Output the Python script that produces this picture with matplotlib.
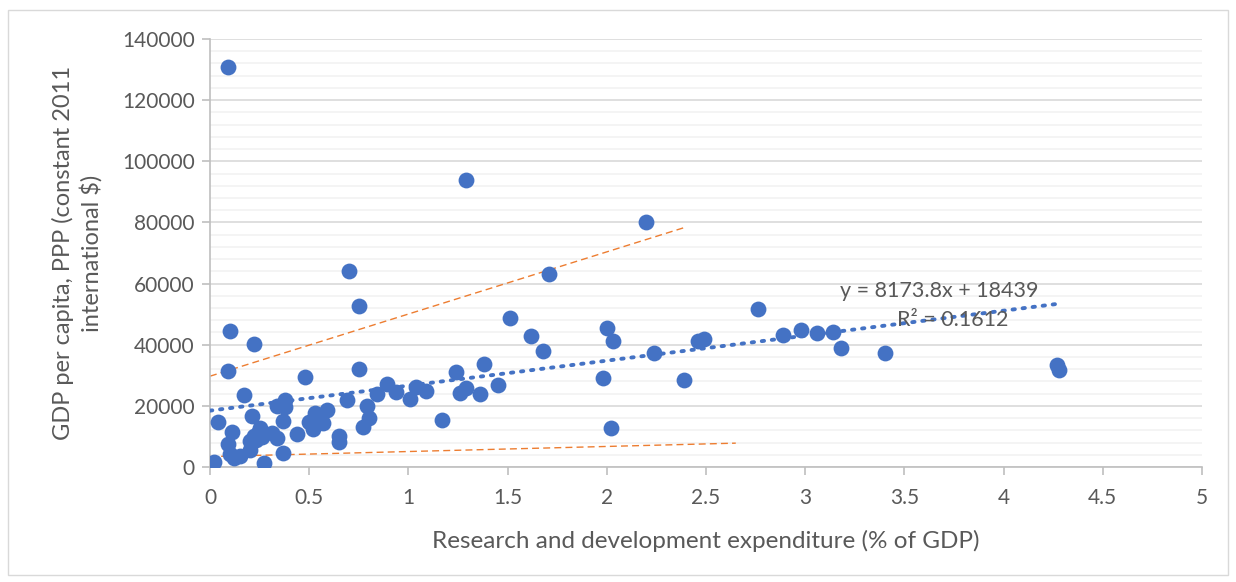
import matplotlib.pyplot as plt
import numpy as np
from matplotlib.patches import Rectangle

plt.rcParams['font.family'] = ['Lato', 'DejaVu Sans']

# R&D expenditure (% of GDP) vs GDP per capita, PPP
rd_pct = [0.02, 0.04, 0.09, 0.10, 0.11, 0.12, 0.09, 0.10, 0.09, 0.17,
          0.21, 0.20, 0.20, 0.22, 0.24, 0.25, 0.23, 0.22, 0.27, 0.34,
          0.34, 0.37, 0.38, 0.38, 0.37, 0.48, 0.44, 0.50, 0.53, 0.52,
          0.57, 0.59, 0.65, 0.65, 0.69, 0.70, 0.75, 0.75, 0.77, 0.79,
          0.80, 0.84, 0.89, 0.94, 1.01, 1.04, 1.09, 1.17, 1.24, 1.26,
          1.29, 1.29, 1.36, 1.38, 1.45, 1.51, 1.62, 1.68, 1.71, 1.98,
          2.00, 2.03, 2.02, 2.20, 2.24, 2.39, 2.46, 2.49, 2.76, 2.89,
          2.98, 3.06, 3.14, 3.18, 3.40, 4.27, 4.28, 0.15, 0.26, 0.31]
gdp_pc = [1500, 14700, 7600, 4200, 11600, 2800, 31500, 44400, 130800, 23500,
          16600, 5400, 8600, 10000, 11200, 12600, 8700, 40300, 1300, 9500,
          19800, 14900, 22000, 19700, 4700, 29600, 10900, 14600, 17700, 12300,
          14500, 18700, 10300, 8300, 22000, 64100, 52600, 32200, 13000, 20100,
          16100, 23900, 27000, 24400, 22400, 26300, 24700, 15300, 31100, 24100,
          25900, 93800, 23900, 33800, 26800, 48800, 42800, 37800, 63200, 29000,
          45600, 41300, 12600, 80100, 37300, 28300, 41100, 42000, 51700, 43200,
          44900, 43900, 44300, 38900, 37200, 33400, 31800, 3500, 9800, 11000]

# linear trendline shown in the chart
slope, intercept = 8173.8, 18439
trend_x = [0, 4.28]

# hand-drawn guide lines (orange dashed)
upper_x, upper_y = [0, 2.39], [29700, 78300]
lower_x, lower_y = [0, 2.65], [3400, 7800]

x_ticks = [0, 0.5, 1, 1.5, 2, 2.5, 3, 3.5, 4, 4.5, 5]
y_ticks = [0, 20000, 40000, 60000, 80000, 100000, 120000, 140000]

text_col = '#595959'
fig = plt.figure(figsize=(12.36, 5.82), dpi=100)
ax = fig.add_axes([0.1699, 0.1976, 0.8026, 0.7354])

ax.set_xlim(0, 5)
ax.set_ylim(0, 140000)
ax.set_yticks(y_ticks)
ax.set_yticks(np.arange(0, 140001, 4000), minor=True)
ax.set_xticks(x_ticks)
ax.set_xticklabels([f'{t:g}' for t in x_ticks])
ax.grid(axis='y', which='major', color='#D9D9D9', lw=1.2, zorder=0)
ax.grid(axis='y', which='minor', color='#F2F2F2', lw=1.2, zorder=0)
ax.set_axisbelow(True)

for s in ['top', 'right']:
    ax.spines[s].set_visible(False)
for s in ['left', 'bottom']:
    ax.spines[s].set_color('#BFBFBF')
    ax.spines[s].set_linewidth(1.2)
ax.tick_params(axis='both', which='major', colors='#BFBFBF', length=6,
               labelcolor=text_col, labelsize=15, width=1.2)
ax.tick_params(axis='y', which='minor', length=0)
ax.tick_params(axis='y', pad=5)
ax.tick_params(axis='x', pad=9)

ax.scatter(rd_pct, gdp_pc, s=130, color='#4472C4', zorder=3, linewidths=0)

tx = np.array(trend_x)
ax.plot(tx, slope * tx + intercept, color='#4472C4', lw=2.8,
        linestyle=(0, (0.6, 2.0)), dash_capstyle='round', zorder=4)
ax.plot(upper_x, upper_y, color='#ED7D31', lw=1, linestyle=(0, (5, 3)), zorder=2)
ax.plot(lower_x, lower_y, color='#ED7D31', lw=1, linestyle=(0, (5, 3)), zorder=2)

ax.text(3.675, 57600, 'y = 8173.8x + 18439', color=text_col, fontsize=15.5,
        ha='center', va='center', zorder=5)
ax.text(3.745, 48100, 'R² = 0.1612', color=text_col, fontsize=15.5,
        ha='center', va='center', zorder=5)

ax.set_xlabel('Research and development expenditure (% of GDP)',
              color=text_col, fontsize=17.5, labelpad=16)
ax.set_ylabel('GDP per capita, PPP (constant 2011\ninternational $)',
              color=text_col, fontsize=17, labelpad=14, linespacing=1.3)

fig.patches.append(Rectangle((8 / 1236, 7 / 582), 1220 / 1236, 565 / 582,
                             transform=fig.transFigure, fill=False,
                             edgecolor='#D9D9D9', lw=1))

fig.savefig('out.png', dpi=100)
